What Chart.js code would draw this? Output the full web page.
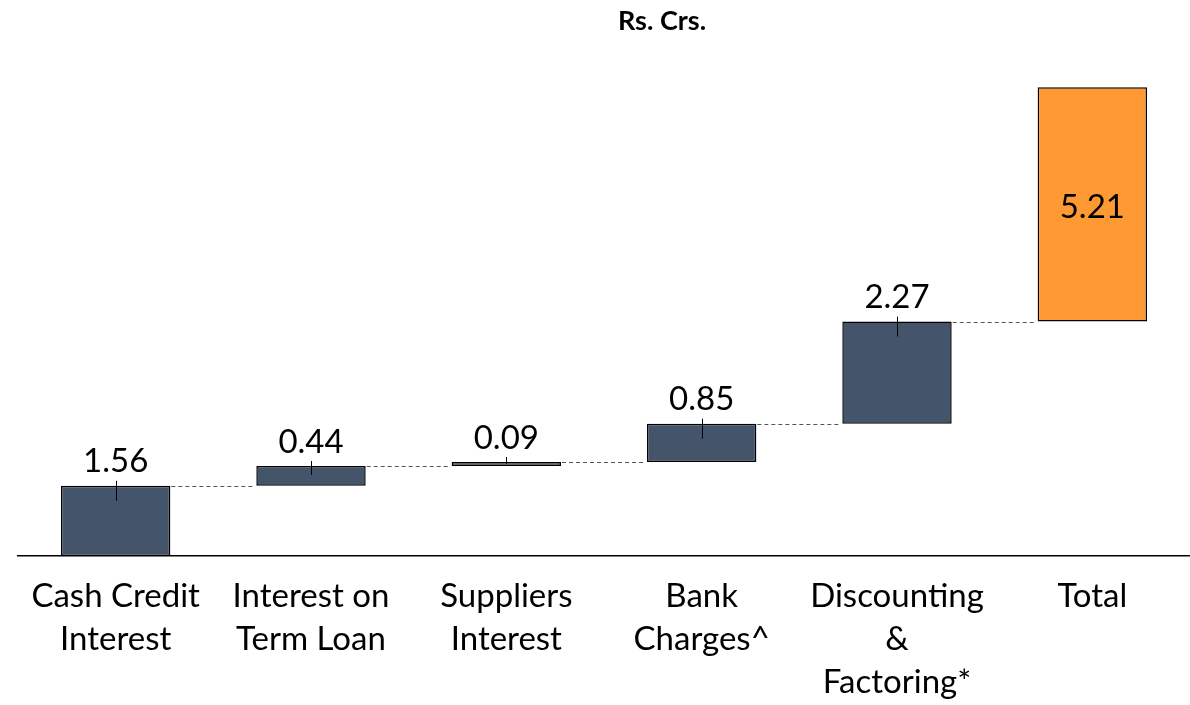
<!DOCTYPE html>
<html>
<head>
<meta charset="utf-8">
<script src="https://cdn.jsdelivr.net/npm/chart.js@4.4.0/dist/chart.umd.min.js"></script>
<style>
  html, body { margin: 0; padding: 0; background: #fff; }
  #wrap { width: 1190px; height: 705px; }
</style>
</head>
<body>
<div id="wrap"><canvas id="myChart"></canvas></div>
<script>
const labels = [
    ['Cash Credit', 'Interest'],
    ['Interest on', 'Term Loan'],
    ['Suppliers', 'Interest'],
    ['Bank', 'Charges^'],
    ['Discounting', '&', 'Factoring*'],
    'Total'
];
const steps = [1.56, 0.44, 0.09, 0.85, 2.27];
const total = 5.21;
const valueLabels = ['1.56', '0.44', '0.09', '0.85', '2.27', '5.21'];

// floating ranges for the waterfall
const ranges = [];
let run = 0;
steps.forEach(v => {
    ranges.push([run, run + v]);
    run += v;
});
ranges.push([run, run + total]);

const FONT = 'Lato, "Open Sans", sans-serif';

const waterfallExtras = {
    id: 'waterfallExtras',
    afterDatasetsDraw(chart) {
        const ctx = chart.ctx;
        const meta = chart.getDatasetMeta(0);
        const y = chart.scales.y;
        ctx.save();
        // dashed connectors
        ctx.strokeStyle = '#555';
        ctx.lineWidth = 1;
        ctx.setLineDash([4, 3]);
        for (let i = 0; i < meta.data.length - 1; i++) {
            const a = meta.data[i], b = meta.data[i + 1];
            const yy = Math.round(y.getPixelForValue(ranges[i][1])) + 0.5;
            ctx.beginPath();
            ctx.moveTo(a.x + a.width / 2 + 1, yy);
            ctx.lineTo(b.x - b.width / 2 - 1, yy);
            ctx.stroke();
        }
        ctx.setLineDash([]);
        // small marks at bar tops
        ctx.strokeStyle = '#000';
        for (let i = 0; i < steps.length; i++) {
            const bar = meta.data[i];
            const top = y.getPixelForValue(ranges[i][1]);
            const h = y.getPixelForValue(ranges[i][0]) - top;
            const x = Math.round(bar.x) + 0.5;
            ctx.beginPath();
            ctx.moveTo(x, top - 5);
            ctx.lineTo(x, top + Math.min(15, h * 0.45));
            ctx.stroke();
        }
        // value labels
        ctx.fillStyle = '#000';
        ctx.font = '33px ' + FONT;
        ctx.textAlign = 'center';
        ctx.textBaseline = 'middle';
        meta.data.forEach((bar, i) => {
            const top = y.getPixelForValue(ranges[i][1]);
            const bottom = y.getPixelForValue(ranges[i][0]);
            if (i === meta.data.length - 1) {
                ctx.fillText(valueLabels[i], bar.x, (top + bottom) / 2 + 3);
            } else {
                ctx.fillText(valueLabels[i], bar.x, top - 24);
            }
        });
        // title
        ctx.font = 'bold 27px ' + FONT;
        ctx.fillText('Rs. Crs.', 662, 21);
        ctx.restore();
    }
};

const data = {
    labels: labels,
    datasets: [{
        data: ranges,
        backgroundColor: ['#44546A', '#44546A', '#44546A', '#44546A', '#44546A', '#FF9933'],
        borderColor: '#000',
        borderWidth: 1.5,
        borderSkipped: false,
        categoryPercentage: 1,
        barPercentage: 0.56
    }]
};

const config = {
    type: 'bar',
    data: data,
    options: {
        responsive: true,
        maintainAspectRatio: false,
        animation: false,
        layout: { padding: { left: 18, right: 0, top: 40, bottom: 0 } },
        plugins: {
            legend: { display: false },
            tooltip: { enabled: false }
        },
        scales: {
            x: {
                grid: { display: false },
                border: { display: true, color: '#000', width: 1.5 },
                ticks: {
                    color: '#000',
                    padding: 11,
                    maxRotation: 0,
                    autoSkip: false,
                    font: { family: FONT, size: 33, lineHeight: 1.3 }
                },
                afterFit(scale) { scale.height = 149; }
            },
            y: {
                display: false,
                min: 0,
                max: 11.47
            }
        }
    },
    plugins: [waterfallExtras]
};

const ctx = document.getElementById('myChart').getContext('2d');
const myChart = new Chart(ctx, config);
</script>
</body>
</html>
